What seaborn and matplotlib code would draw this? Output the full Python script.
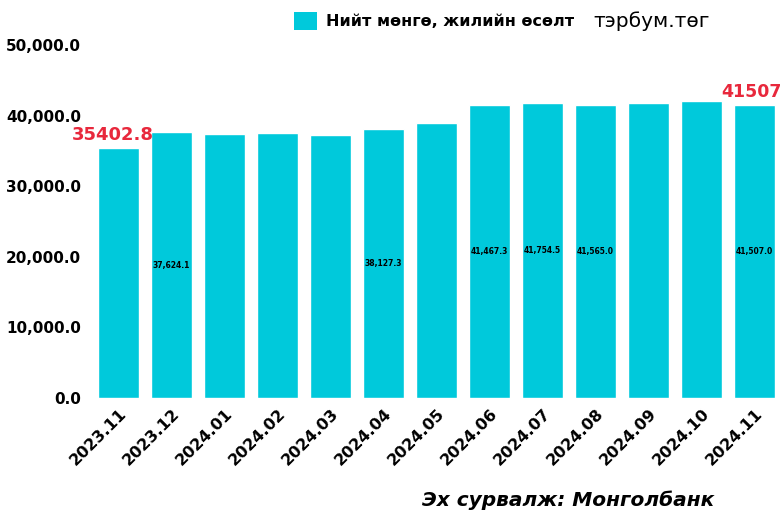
import matplotlib
matplotlib.use("Agg")
import matplotlib.pyplot as plt
from matplotlib.patches import Patch
from matplotlib.ticker import FuncFormatter
import pandas as pd
import seaborn as sns

# monthly total money supply, billion MNT
months = ["2023.11", "2023.12", "2024.01", "2024.02", "2024.03", "2024.04", "2024.05",
          "2024.06", "2024.07", "2024.08", "2024.09", "2024.10", "2024.11"]
values = [35402.8, 37624.1, 37400.0, 37500.0, 37250.0, 38127.3, 38950.0,
          41467.3, 41754.5, 41565.0, 41800.0, 42100.0, 41507.0]
# bars that carry a value label inside
labelled = ["2023.12", "2024.04", "2024.06", "2024.07", "2024.08", "2024.11"]
first_label = "35402.8"
last_label = "41507"

legend_text = "Нийт мөнгө, жилийн өсөлт"
unit_text = "тэрбум.төг"
source_text = "Эх сурвалж: Монголбанк"

BAR = "#00C9DB"
RED = "#E8283C"

sns.set_theme(style="white")
plt.rcParams['font.family'] = ['DejaVu Sans']
plt.rcParams['text.color'] = 'black'
plt.rcParams['xtick.color'] = 'black'
plt.rcParams['ytick.color'] = 'black'

df = pd.DataFrame({"month": months, "value": values})

fig = plt.figure(figsize=(7.82, 5.18), dpi=100)
ax = fig.add_axes([92 / 782, 120 / 518, 689 / 782, 353 / 518])

sns.barplot(data=df, x="month", y="value", color=BAR, saturation=1,
            width=0.755, ax=ax)

ax.set_xlim(-0.5, 12.5)
ax.set_ylim(0, 50000)
ax.set_yticks([0, 10000, 20000, 30000, 40000, 50000])
ax.yaxis.set_major_formatter(FuncFormatter(lambda v, p: f"{v:,.1f}"))
ax.set_xlabel("")
ax.set_ylabel("")
sns.despine(ax=ax, left=True, bottom=True)
ax.tick_params(axis="both", length=0)
ax.tick_params(axis="y", pad=8)
ax.tick_params(axis="x", pad=6)

for lbl in ax.get_yticklabels():
    lbl.set_fontweight("bold")
    lbl.set_fontsize(11)
for lbl in ax.get_xticklabels():
    lbl.set_rotation(45)
    lbl.set_ha("right")
    lbl.set_rotation_mode("anchor")
    lbl.set_fontweight("bold")
    lbl.set_fontsize(11.5)

# small labels in the middle of some bars
for i, (m, v) in enumerate(zip(months, values)):
    if m in labelled:
        ax.text(i, v / 2, f"{v:,.1f}", ha="center", va="center",
                fontsize=5.5, fontweight="bold", color="black")

# red callouts on first and last bar
ax.annotate(first_label, (0, values[0]), xytext=(-4, 3), textcoords="offset points",
            ha="center", va="bottom", color=RED, fontsize=13, fontweight="bold",
            annotation_clip=False)
ax.annotate(last_label, (12, values[-1]), xytext=(-2, 3), textcoords="offset points",
            ha="center", va="bottom", color=RED, fontsize=12.5, fontweight="bold",
            annotation_clip=False)

# legend and unit on top
handle = Patch(facecolor=BAR, edgecolor="none", label=legend_text)
leg = fig.legend(handles=[handle], loc="center left", bbox_to_anchor=(280 / 782, 1 - 21 / 518),
                 frameon=False, handlelength=1.4, handleheight=1.4, handletextpad=0.6,
                 prop={"weight": "bold", "size": 11.5})
fig.text(593 / 782, 1 - 21 / 518, unit_text, ha="left", va="center", fontsize=14.5)

fig.text(714 / 782, 1 - 500 / 518, source_text, ha="right", va="center",
         fontsize=14.5, fontweight="bold", fontstyle="italic")

fig.savefig("out.png", dpi=100)
